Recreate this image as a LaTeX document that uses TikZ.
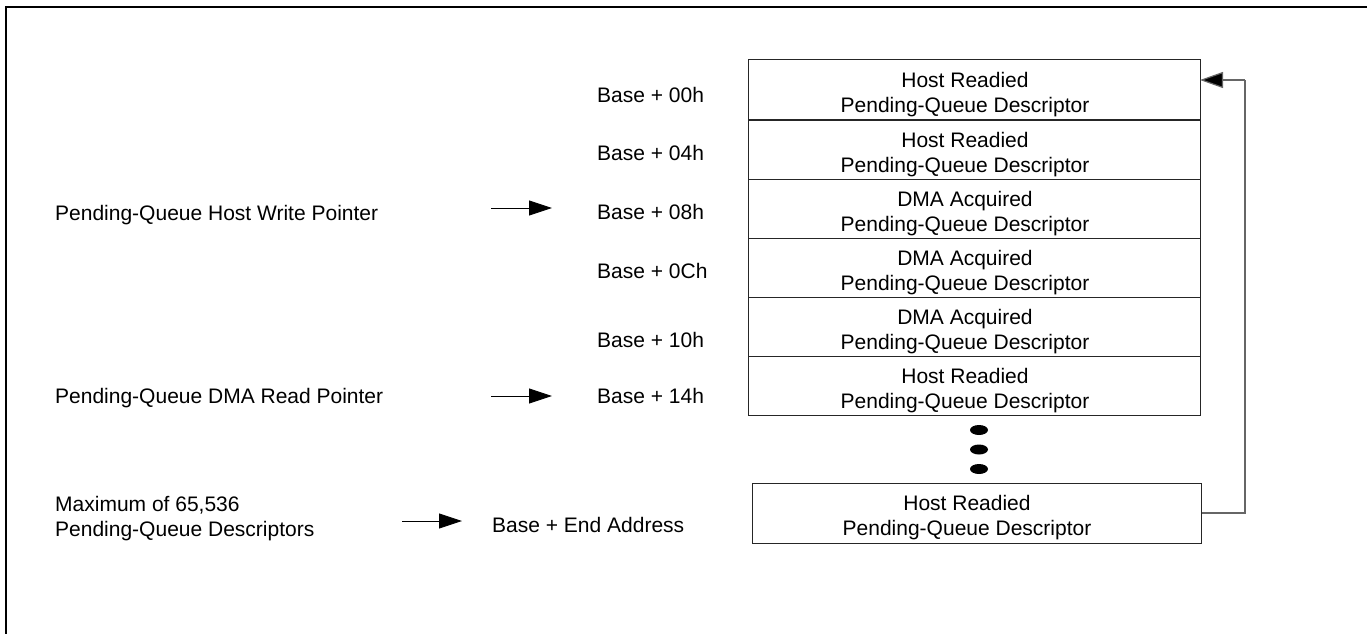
\documentclass[tikz,border=0pt]{standalone}
\usepackage{fontspec}
\setmainfont{Liberation Sans}
\usetikzlibrary{arrows.meta,shapes.geometric}
\begin{document}
\begin{tikzpicture}[x=1pt,y=-1pt,
  txt/.style={font=\fontsize{21}{25}\selectfont, inner sep=0pt},
  lbl/.style={txt, anchor=base west},
  qbox/.style={draw=black!85, line width=1pt, minimum width=452pt, minimum height=59pt, inner sep=0pt},
  boxtxt/.style={txt, align=center},
  ptr/.style={line width=0.9pt, -{Triangle[length=23pt,width=15pt]}},
  fb/.style={draw=black!60, line width=1.2pt},
  dot/.style={fill=black, ellipse, minimum width=18pt, minimum height=10pt, inner sep=0pt}
]
\useasboundingbox (0,0) rectangle (1367,634);
% frame
\draw[line width=2.6pt] (6,640) -- (6,7) -- (1375,7);

% queue boxes
\node[qbox] (b1) at (974,89.5) {};
\node[qbox] (b2) at (974,149.5) {};
\node[qbox] (b3) at (974,208.5) {};
\node[qbox] (b4) at (974,267.5) {};
\node[qbox] (b5) at (974,326.5) {};
\node[qbox] (b6) at (974,385.5) {};
\node[qbox, minimum width=449pt, minimum height=60pt] (b7) at (976.5,513) {};

\node[boxtxt] (t1) at (965,95) {Host Readied\\Pending-Queue Descriptor};
\node[boxtxt] (t2) at (965,155) {Host Readied\\Pending-Queue Descriptor};
\node[boxtxt] (t3) at (965,214) {DMA Acquired\\Pending-Queue Descriptor};
\node[boxtxt] (t4) at (965,273) {DMA Acquired\\Pending-Queue Descriptor};
\node[boxtxt] (t5) at (965,332) {DMA Acquired\\Pending-Queue Descriptor};
\node[boxtxt] (t6) at (965,391) {Host Readied\\Pending-Queue Descriptor};
\node[boxtxt] (t7) at (967,518) {Host Readied\\Pending-Queue Descriptor};

% ellipsis dots
\node[dot] (d1) at (979,430) {};
\node[dot] (d2) at (979,449.5) {};
\node[dot] (d3) at (979,469) {};

% address labels
\node[lbl] (a0) at (597,102) {Base + 00h};
\node[lbl] (a4) at (597,160) {Base + 04h};
\node[lbl] (a8) at (597,219) {Base + 08h};
\node[lbl] (ac) at (597,278) {Base + 0Ch};
\node[lbl] (a10) at (597,347) {Base + 10h};
\node[lbl] (a14) at (597,403) {Base + 14h};
\node[lbl] (aend) at (492,532) {Base + End Address};

% pointer labels
\node[lbl] (hw) at (55,220) {Pending-Queue Host Write Pointer};
\node[lbl] (dr) at (55,403) {Pending-Queue DMA Read Pointer};
\node[lbl] (mx1) at (55,511) {Maximum of 65,536};
\node[lbl] (mx2) at (55,536) {Pending-Queue Descriptors};

% pointer arrows
\coordinate (p1s) at (491,208);
\coordinate (p1e) at (552,208);
\coordinate (p2s) at (491,396);
\coordinate (p2e) at (552,396);
\coordinate (p3s) at (402,521);
\coordinate (p3e) at (462,521);
\draw[ptr] (p1s) -- (p1e);
\draw[ptr] (p2s) -- (p2e);
\draw[ptr] (p3s) -- (p3e);

% wrap-around arrow
\coordinate (fbc) at (1245,80);
\coordinate (fbt) at (1200,80);
\draw[fb] (b7.east) -| (fbc);
\draw[line width=1.2pt, draw=black!60, -{Triangle[length=23pt,width=16pt,fill=black]}] (fbc) -- (fbt);
\end{tikzpicture}
\end{document}
